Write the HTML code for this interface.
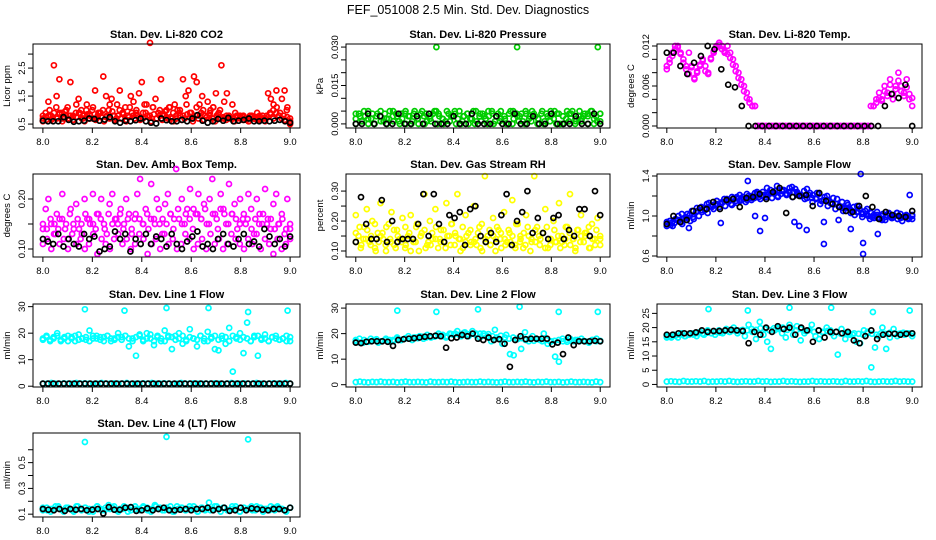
<!DOCTYPE html>
<html><head><meta charset="utf-8"><style>
body{margin:0;background:#fff}
svg{display:block;font-family:"Liberation Sans",sans-serif}
</style></head><body>
<svg id="c" width="936" height="540" viewBox="0 0 936 540" xmlns="http://www.w3.org/2000/svg">
<rect width="936" height="540" fill="#fff"/>
<text x="468" y="14" text-anchor="middle" font-size="12.5">FEF_051008  2.5 Min. Std. Dev. Diagnostics</text>
</svg>
<script>
const xTicks=[8.0,8.2,8.4,8.6,8.8,9.0];
const xTickLabels=["8.0","8.2","8.4","8.6","8.8","9.0"];
const co2Red=[0.7,0.9,1.3,0.8,2.6,1.5,2.1,0.9,0.7,1.1,2.0,0.8,0.9,1.4,1.0,0.8,1.2,0.7,1.0,1.7,0.8,0.9,2.2,1.5,1.0,1.4,0.8,1.2,1.7,0.9,1.1,0.8,1.5,1.3,0.9,1.6,2.0,1.2,0.8,3.4,1.1,1.4,0.9,2.1,0.8,1.0,1.1,0.7,1.2,1.0,0.8,2.1,1.5,1.7,0.9,2.2,2.0,1.2,1.5,0.8,1.3,1.0,1.1,1.6,0.9,2.6,1.3,1.6,0.7,1.2,0.9,0.8,0.7,0.8,0.7,0.6,0.8,0.7,0.9,0.7,0.8,0.7,1.6,1.4,1.2,1.7,0.8,1.4,1.7,1.1,0.5];
const co2RedBand=[0.6,0.75,0.8,0.65,0.9,0.7,0.85,0.6,0.95,0.7,0.8,0.65,0.75,0.9,0.7,0.6,0.85,0.8,0.7,0.65,0.9,0.75,0.6,0.8,0.7,0.95,0.65,0.8,0.7,0.85,0.6,0.75,0.9,0.7,0.8,0.65,0.7,0.9,0.75,0.6,0.85,0.7,0.8,0.65,0.95,0.7,0.75,0.6,0.8,0.9,0.65,0.7,0.85,0.75,0.6,0.8,0.7,0.9,0.65,0.75,0.8,0.7,0.6,0.85,0.7,0.75,0.65,0.8,0.7,0.6,0.75,0.8,0.65,0.7,0.6,0.75,0.7,0.65,0.8,0.7,0.6,0.75,0.85,0.7,0.9,0.8,0.7,0.65,0.75,0.6];
const co2RedBand2=[0.8,0.65,1.0,0.7,1.1,0.9,0.7,1.0,0.8,0.65,1.2,0.9,0.7,1.0,0.85,1.1,0.7,0.9,1.0,0.75,1.2,0.8,0.7,1.0,0.9,0.65,1.1,0.8,1.0,0.7,0.9,1.2,0.8,1.1,0.7,1.0,0.85,0.75,1.1,0.9,0.7,1.0,0.8,1.2,0.9,0.7,1.1,0.8,1.0,0.75,0.9,1.1,0.8,1.0,0.7,0.8,0.75,0.7,0.8,0.7,0.75,0.65,0.8,0.7,0.75,0.65,0.7,0.8,0.9,1.0,1.1,0.9,0.8,1.0,0.7];
const co2Black=[0.62,0.6,0.6,0.6,0.75,0.65,0.58,0.6,0.62,0.7,0.68,0.62,0.66,0.75,0.6,0.55,0.62,0.6,0.64,0.7,0.6,0.55,0.52,0.7,0.64,0.6,0.6,0.65,0.6,0.7,0.82,0.62,0.55,0.6,0.68,0.62,0.72,0.6,0.62,0.65,0.7,0.6,0.6,0.62,0.6,0.62,0.65,0.6,0.55];
const presGreen=[0.002,0.004,0.001,0.003,0.005,0.002,0.000,0.004,0.003,0.001,0.002,0.005,0.003,0.004,0.001,0.002,0.004,0.003,0.000,0.005,0.002,0.004,0.003,0.001,0.002,0.004,0.005,0.003,0.002,0.001,0.004,0.003,0.005,0.002,0.000,0.003,0.004,0.002,0.005,0.001,0.003,0.004,0.002,0.003,0.005,0.001,0.004,0.002,0.003,0.000,0.005,0.002,0.004,0.003,0.001,0.004,0.002,0.005,0.003,0.002,0.004,0.001,0.003,0.005,0.002,0.004,0.000,0.003,0.002,0.004,0.005,0.001,0.003,0.002,0.004,0.003,0.005,0.002,0.001,0.004];
const presGreen2=[0.004,0.003,0.005,0.002,0.004,0.003,0.005,0.004,0.002,0.005,0.003,0.004,0.005,0.003,0.004,0.002,0.005,0.004,0.003,0.005,0.004,0.002,0.005,0.003,0.004,0.005,0.003,0.004,0.002,0.005,0.004,0.003,0.005,0.004,0.003,0.005,0.002,0.004,0.005,0.003,0.004,0.005,0.003,0.004,0.002,0.005,0.004,0.003,0.005,0.004,0.003,0.005,0.004,0.002,0.005,0.003,0.004,0.005,0.003,0.004];
const presGreenLow=[0.000,0.001,0.000,0.000,0.001,0.000,0.001,0.000,0.000,0.001,0.000,0.000,0.001,0.000,0.000,0.001,0.000,0.001,0.000,0.000,0.001,0.000,0.000,0.001,0.000,0.000,0.001,0.000,0.001,0.000,0.000,0.001,0.000,0.000,0.001,0.000,0.001,0.000,0.000,0.001];
const presSpikeT=[8.33,8.66,8.99];
const presSpikeV=[0.030,0.030,0.030];
const presBlack=[0.000,0.000,0.004,0.000,0.003,0.000,0.000,0.004,0.000,0.000,0.003,0.000,0.004,0.000,0.000,0.000,0.003,0.000,0.000,0.004,0.000,0.000,0.000,0.003,0.000,0.000,0.004,0.000,0.000,0.003,0.000,0.000,0.004,0.000,0.000,0.000,0.003,0.000,0.000,0.004,0.000];
const tempMag=[0.009,0.010,0.011,0.012,0.012,0.011,0.010,0.009,0.011,0.009,0.007,0.008,0.009,0.010,0.009,0.008,0.010,0.011,0.012,0.0125,0.012,0.011,0.012,0.011,0.010,0.009,0.008,0.007,0.006,0.005,0.004,0.003,0.003,0,0,0,0,0,0,0,0,0,0,0,0,0,0,0,0,0,0,0,0,0,0,0,0,0,0,0,0,0,0,0,0,0,0,0,0,0,0,0,0,0,0.003,0.003,0.004,0.005,0.004,0.006,0.005,0.007,0.004,0.006,0.008,0.006,0.005,0.007,0.004,0.003];
const tempMag2=[0.0085,0.0095,0.0105,0.0115,0.0118,0.0108,0.0095,0.0085,0.0078,0.0088,0.0072,0.0082,0.0092,0.0098,0.0082,0.0078,0.0102,0.0112,0.0118,0.0122,0.0115,0.0112,0.0108,0.0102,0.0092,0.0082,0.0072,0.0062,0.0052,0.0042,0.0035,0.003,0.003,0,0,0,0,0,0,0,0,0,0,0,0,0,0,0,0,0,0,0,0,0,0,0,0,0,0,0,0,0,0,0,0,0,0,0,0,0,0,0,0,0,0,0.003,0.0035,0.0042,0.0038,0.0052,0.0045,0.0062,0.0048,0.0055,0.0068,0.0052,0.0045,0.0058,0.0048,0.0042];
const tempBlack=[0.011,0.011,0.009,0.0078,0.0095,0.0105,0.012,0.0115,0.0085,0.0062,0.0058,0.003,0,0,0,0,0,0,0,0,0,0,0,0,0,0,0,0,0,0,0,0,0.003,0.0048,0.0042,0.0062,0];
const ambUpper=[0.14,0.18,0.20,0.15,0.13,0.17,0.16,0.21,0.14,0.12,0.18,0.15,0.19,0.14,0.13,0.20,0.16,0.15,0.21,0.14,0.17,0.20,0.15,0.13,0.19,0.21,0.16,0.15,0.18,0.14,0.20,0.17,0.13,0.16,0.21,0.24,0.15,0.18,0.14,0.23,0.16,0.20,0.15,0.13,0.19,0.21,0.17,0.14,0.26,0.16,0.20,0.15,0.18,0.22,0.14,0.17,0.21,0.16,0.19,0.15,0.20,0.24,0.17,0.14,0.21,0.18,0.15,0.23,0.17,0.19,0.14,0.20,0.16,0.15,0.21,0.18,0.13,0.20,0.17,0.15,0.22,0.16,0.14,0.19,0.21,0.15,0.17,0.13,0.20,0.14];
const ambUpper2=[0.15,0.14,0.16,0.15,0.14,0.16,0.15,0.17,0.14,0.16,0.15,0.17,0.16,0.15,0.17,0.16,0.14,0.17,0.15,0.16,0.17,0.15,0.16,0.14,0.17,0.16,0.15,0.17,0.16,0.15,0.18,0.16,0.15,0.17,0.16,0.18,0.15,0.17,0.16,0.18,0.17,0.16,0.18,0.15,0.17,0.16,0.18,0.17,0.15,0.17,0.16,0.15,0.17,0.16,0.14,0.16,0.15,0.17,0.15,0.16,0.14,0.15,0.16,0.14,0.15];
const ambLower=[0.11,0.12,0.10,0.13,0.11,0.12,0.10,0.13,0.11,0.12,0.10,0.11,0.13,0.09,0.12,0.11,0.10,0.12,0.13,0.11,0.12,0.10,0.11,0.13,0.12,0.09,0.11,0.12,0.10,0.13,0.11,0.12,0.10,0.11,0.13,0.12,0.10,0.11,0.12,0.10,0.13,0.11,0.12,0.10,0.11,0.13,0.12,0.11,0.10,0.12,0.11,0.13,0.10,0.12,0.11,0.09,0.12,0.10,0.11,0.12];
const ambBlack=[0.12,0.115,0.11,0.13,0.105,0.12,0.11,0.105,0.13,0.12,0.125,0.095,0.10,0.105,0.135,0.12,0.13,0.095,0.12,0.11,0.13,0.11,0.125,0.12,0.105,0.13,0.11,0.10,0.115,0.125,0.135,0.105,0.11,0.10,0.12,0.13,0.11,0.105,0.12,0.13,0.11,0.115,0.105,0.14,0.125,0.11,0.12,0.105,0.125];
const rhYellow=[0.22,0.15,0.12,0.18,0.24,0.13,0.20,0.11,0.16,0.26,0.14,0.10,0.19,0.23,0.12,0.17,0.14,0.21,0.11,0.15,0.22,0.13,0.18,0.10,0.16,0.29,0.12,0.20,0.14,0.24,0.11,0.17,0.13,0.26,0.15,0.19,0.12,0.29,0.14,0.11,0.22,0.16,0.13,0.25,0.12,0.18,0.10,0.35,0.15,0.12,0.21,0.14,0.17,0.11,0.23,0.13,0.16,0.27,0.12,0.19,0.14,0.11,0.22,0.15,0.13,0.35,0.18,0.12,0.16,0.24,0.11,0.14,0.20,0.13,0.26,0.15,0.12,0.18,0.29,0.14,0.11,0.17,0.22,0.13,0.16,0.11,0.19,0.14,0.21,0.12];
const rhYellow2=[0.16,0.18,0.14,0.17,0.15,0.19,0.13,0.16,0.18,0.14,0.17,0.15,0.13,0.18,0.16,0.14,0.19,0.15,0.17,0.13,0.16,0.18,0.14,0.17,0.15,0.19,0.16,0.14,0.18,0.15,0.17,0.13,0.16,0.19,0.14,0.17,0.15,0.18,0.16,0.14,0.17,0.15,0.19,0.13,0.16,0.18,0.14,0.17,0.15,0.16,0.18,0.14,0.17,0.15,0.13,0.18,0.16,0.14,0.17,0.15,0.16,0.18,0.14,0.17,0.15];
const rhYellowLow=[0.13,0.11,0.14,0.12,0.10,0.15,0.12,0.13,0.11,0.14,0.12,0.10,0.13,0.15,0.11,0.12,0.14,0.13,0.11,0.12,0.15,0.10,0.13,0.12,0.14,0.11,0.13,0.12,0.10,0.14,0.12,0.13,0.11,0.15,0.12,0.10,0.13,0.14,0.11,0.12,0.13,0.11,0.14,0.12,0.10,0.13,0.15,0.11,0.12,0.14];
const rhBlack=[0.13,0.28,0.19,0.14,0.14,0.27,0.13,0.2,0.13,0.14,0.14,0.14,0.19,0.29,0.15,0.29,0.19,0.13,0.22,0.21,0.23,0.12,0.24,0.25,0.15,0.13,0.16,0.13,0.22,0.29,0.12,0.2,0.23,0.3,0.16,0.21,0.16,0.14,0.21,0.22,0.14,0.17,0.15,0.24,0.24,0.15,0.3,0.22];
const flowBlue=[0.92,0.95,0.90,0.97,1.00,0.94,0.98,1.02,0.95,0.99,1.04,1.00,1.06,1.08,1.03,1.10,1.07,1.12,1.09,1.14,1.10,1.16,1.12,1.18,1.13,1.15,1.19,1.14,1.20,1.16,1.18,1.22,1.17,1.21,1.19,1.23,1.18,1.25,1.20,1.22,1.26,1.21,1.24,1.19,1.27,1.22,1.20,1.25,1.18,1.23,1.21,1.17,1.22,1.15,1.19,1.16,1.13,1.18,1.12,1.10,1.14,1.08,1.11,1.06,1.09,1.04,1.07,1.02,1.05,1.00,1.03,0.98,1.01,0.97,1.02,0.99,1.03,0.98,1.00,0.97,1.02,0.99,1.01,0.98,1.00];
const flowBlueBand=[0.90,0.93,0.96,1.02,0.98,1.05,1.08,1.04,1.12,1.09,1.15,1.13,1.17,1.11,1.19,1.16,1.22,1.18,1.24,1.20,1.28,1.23,1.30,1.26,1.22,1.29,1.24,1.20,1.27,1.18,1.23,1.15,1.20,1.12,1.17,1.08,1.13,1.05,1.10,1.02,1.07,0.99,1.04,0.96,1.01,0.98,1.03,0.95,1.00,0.97];
const flowBlue2=[0.94,0.91,0.93,0.96,0.92,0.99,1.01,0.97,1.05,1.09,1.06,1.13,1.11,1.15,1.12,1.17,1.14,1.19,1.15,1.21,1.17,1.16,1.20,1.23,1.19,1.24,1.21,1.26,1.23,1.19,1.25,1.22,1.28,1.24,1.21,1.20,1.17,1.21,1.14,1.18,1.12,1.16,1.10,1.13,1.07,1.10,1.05,1.08,1.03,1.01,1.04,0.99,1.02,0.97,1.01,0.98,1.00,0.96,1.02,0.99,1.03,0.98,1.00,0.97,1.01];
const flowOutT=[8.09,8.22,8.33,8.36,8.38,8.40,8.52,8.54,8.57,8.64,8.64,8.70,8.75,8.79,8.80,8.80,8.86,8.99];
const flowOutV=[0.88,0.93,1.35,1.00,0.85,0.98,0.94,0.90,0.86,0.94,0.72,0.96,0.87,1.42,0.73,0.62,0.82,1.21];
const flowBlack=[0.92,1.0,0.94,0.96,1.05,1.08,1.07,1.14,1.07,1.16,1.17,1.09,1.18,1.19,1.22,1.17,1.24,1.28,1.03,1.19,1.20,1.21,1.10,1.23,1.15,1.12,1.09,1.05,1.04,1.10,1.20,1.09,0.97,1.04,1.01,1.00,0.99,1.05];
const l1Cyan=[18,19,17.5,18.5,20,17,18,19,18.5,17,19.5,18,17.5,21,18,19,18.5,17,19,18,17.5,20,18.5,19,15,18,11.5,19.5,17,20,18,15.5,19,17,21,18.5,14,19,20,16,17.5,21.5,18,15,19,17,20.5,18,14,13.5,19,16,22,5.5,18.5,20,12.5,24,17,19,11.5,18,19.5,17,18.5,19,17.5,18,19,17];
const l1Cyan2=[17.5,18.5,17,18,19,17.5,18.5,17,18,19,17.5,18,18.5,17,19,18,17.5,18.5,19,17,18,18.5,17.5,19,18,17,18.5,19,17.5,18,19.5,17,18.5,18,17,19,18.5,17.5,18,19,17,18.5,18,17.5,19,18,17,18.5,19,17.5,18,18.5,17,19,18,17.5,18.5,18,17,18.5,19,17.5,18,17,18.5,18,17.5,18,17,18.5];
const l1CyanLow=[1,1,1.2,1,0.9,1.1,1,1,1.2,1,1.1,1,0.9,1,1.2,1,1,1.1,1,1,1.2,0.9,1,1,1.1,1,1.2,1,1,1.1,1,0.9,1,1.2,1,1,1.1,1,1,1,1,1.1,1,0.9,1,1.2,1,1,1.1,1,1,1.2,1,0.9,1,1.1,1,1,1.2,1];
const l1OutT=[8.17,8.33,8.50,8.67,8.83,8.99];
const l1OutV=[29,28.5,29.5,29.5,28,28.5];
const l1Black=[1,1,1,1,1,1,1,1,1,1,1,1,1,1,1,1,1,1,1,1,1,1,1,1,1,1,1,1,1,1,1,1,1,1,1,1,1,1,1,1,1,1,1,1,1,1,1,1];
const l2Cyan=[17.5,18,16.5,17,18,17.5,16.5,17,18,17.5,17,18.5,17.5,18,19,17.5,18.5,19,18,19.5,18.5,19,20,19,18.5,20,19.5,21,19,20.5,19,21,20,18.5,20,19,17,21.5,18,16,19.5,12,11.5,18,14,20.5,17,19,18,17.5,20,16,17,11,9,18,17.5,18,17,17.5,18,17,16.5,17.5,18,17];
const l2Cyan2=[17,16.5,17.5,16.8,17.2,17.8,17,17.5,16.8,17.5,18,17.5,18.2,18,18.5,18.2,18.8,18.5,19,18.8,19.2,19.5,19,19.8,20,19.5,20.2,19.8,20,19.5,20,19.2,19.8,19,18.5,19.2,18.5,18,18.5,17.8,18.2,17.5,18,17.2,17.8,17,17.5,16.8,17.2,17.5,17,16.8,17.2,17.5,17,17.2,16.8,17.5,17,17.2];
const l2CyanLow=[1,1.2,1,0.9,1.1,1,1.2,1,1,1.1,0.9,1,1.2,1,1,1.1,1,0.9,1.2,1,1,1.1,1,1.2,1,0.9,1,1.1,1,1,1.2,1,1.1,1,0.9,1,1.2,1,1,1.1,1,1.2,1,0.9,1.1,1,1.2,1,1,1.1,0.9,1,1.2,1,1,1.1,1,0.9,1.2,1];
const l2OutT=[8.17,8.33,8.50,8.67,8.83,8.99];
const l2OutV=[29,28.5,29.5,30.5,28.5,28.5];
const l2Black=[16.5,16.3,16.8,17,17,17,16.8,15.2,17.5,17.8,18,18.2,18.5,18.8,19,19.2,19,14.5,18.2,18.5,19.5,19,20,18,17.5,18.5,17.5,17.8,16,7,17.5,19,17.8,18,18,18,18,15.8,16.5,12,18.5,15.5,17,17,17,17.2,17];
const l3Cyan=[16.5,17,17.5,16.5,18,17,17.5,18,17,18.5,17.5,19,18,17.5,19,18,19.5,18.5,20,18,19,17,21,18.5,16,22,17.5,15,12.5,19,20,18,16.5,21,17.5,20.5,15.5,18,19,21,17,16,18.5,20,19,17,10.5,19.5,16,18,17.5,15,14.5,19,18.5,6,13,17,20,12.5,16.5,19.5,17,18,17.5,18,17];
const l3Cyan2=[17,16.5,17.2,17.5,17,17.8,17.5,18,17.8,18.2,18,18.5,18.2,18.8,18.5,19,18.8,19.2,19,19.5,19.2,19.8,19.5,19,19.8,19.5,20,19.2,19.8,19,19.5,18.8,19.2,18.5,19,18.2,18.8,18,18.5,17.8,18.2,17.5,18,17.8,17.5,18,17.8,17.5,18,17.8,18.2,18,17.8,18.2,18,17.8];
const l3CyanLow=[1,1.1,1,0.9,1.2,1,1,1.1,1,1.2,0.9,1,1,1.1,1,1.2,1,0.9,1,1.1,1,1,1.2,1,1.1,0.9,1,1,1.2,1,1.1,1,0.9,1,1,1.2,1,1.1,1,1,1.1,1,0.9,1.2,1,1,1.1,1,1.2,1,0.9,1,1.1,1,1,1.2,1,1.1,1,1];
const l3OutT=[8.17,8.33,8.50,8.67,8.84,8.99];
const l3OutV=[26.5,26,27,27,25.5,26];
const l3Black=[17.5,17.5,18,18,18,18.3,19,18.5,18.8,18.8,19,19.2,19,18.8,14.5,18.5,17.5,20,18.5,20.5,19.5,20,17.5,20,19,15,19,16.5,18.5,18.5,18,18.5,15.5,14.5,17,19,16,17.5,17.8,17.8,17.5,17.8,18];
const l4Cyan=[0.13,0.15,0.12,0.14,0.16,0.13,0.15,0.14,0.12,0.16,0.13,0.15,0.14,0.12,0.16,0.14,0.13,0.17,0.15,0.13,0.14,0.16,0.12,0.15,0.14,0.13,0.16,0.15,0.12,0.17,0.14,0.13,0.15,0.16,0.12,0.14,0.15,0.13,0.16,0.14,0.12,0.15,0.13,0.19,0.14,0.16,0.12,0.15,0.13,0.16,0.14,0.12,0.15,0.14,0.16,0.13,0.15,0.12,0.14,0.16,0.13,0.15,0.14,0.12,0.15];
const l4Cyan2=[0.15,0.13,0.14,0.16,0.14,0.12,0.15,0.13,0.16,0.14,0.15,0.12,0.14,0.16,0.13,0.15,0.14,0.16,0.12,0.14,0.15,0.13,0.16,0.14,0.15,0.13,0.14,0.16,0.15,0.13,0.14,0.12,0.16,0.15,0.13,0.14,0.16,0.12,0.15,0.14,0.13,0.16,0.14,0.15,0.13,0.14,0.16,0.12,0.15,0.14,0.13,0.16,0.15,0.14,0.13,0.15,0.16,0.14,0.13,0.15];
const l4OutT=[8.17,8.50,8.83];
const l4OutV=[0.66,0.70,0.68];
const l4Black=[0.14,0.135,0.13,0.14,0.125,0.14,0.135,0.14,0.13,0.135,0.14,0.105,0.155,0.135,0.135,0.15,0.155,0.125,0.13,0.145,0.13,0.14,0.15,0.13,0.13,0.135,0.14,0.13,0.14,0.14,0.15,0.13,0.14,0.15,0.125,0.13,0.15,0.13,0.145,0.14,0.135,0.13,0.14,0.14,0.13,0.15];

const svg=document.getElementById('c');
const NS='http://www.w3.org/2000/svg';
function mk(tag,attrs,parent){const e=document.createElementNS(NS,tag);for(const k in attrs)e.setAttribute(k,attrs[k]);(parent||svg).appendChild(e);return e;}
function idxTimes(n){const t=[];for(let i=0;i<n;i++)t.push(8+i/(n-1));return t;}

function panel(p){
  const g=mk('g',{});
  
  
  const xS=v=>p.x0+(v-7.96)/(9.04-7.96)*(p.x1-p.x0);
  const yS=v=>p.y1-(v-p.ymin)/(p.ymax-p.ymin)*(p.y1-p.y0);
  const t=mk('text',{x:(p.x0+p.x1)/2,y:p.y0-6,'text-anchor':'middle','font-size':'11','font-weight':'bold'},g);
  t.textContent=p.title;
  
  
  p.series.forEach(s=>{
    const sg=mk('g',{fill:'none',stroke:s.c,'stroke-width':'1.7'},g);
    
    
    const ts=s.t||idxTimes(s.v.length);
    s.v.forEach((v,i)=>{
      const c=mk('circle',{cx:xS(ts[i]).toFixed(1),cy:yS(v).toFixed(1),r:'2.5'},sg);
      
      
    });
  });
  const box=mk('rect',{x:p.x0,y:p.y0,width:p.x1-p.x0,height:p.y1-p.y0,fill:'none',stroke:'#000','stroke-width':'1'},g);
  
  
  const xa=mk('g',{},g);
  
  
  xTicks.forEach((v,i)=>{
    const x=xS(v);
    mk('line',{x1:x,x2:x,y1:p.y1,y2:p.y1+5,stroke:'#000'},xa);
    const l=mk('text',{x:x,y:p.y1+17,'text-anchor':'middle','font-size':'9.5'},xa);
    l.textContent=xTickLabels[i];
  });
  const ya=mk('g',{},g);
  
  
  p.yt.forEach((v,i)=>{
    const y=yS(v);
    mk('line',{x1:p.x0,x2:p.x0-5,y1:y,y2:y,stroke:'#000'},ya);
    if(p.yl[i]){
      const l=mk('text',{x:p.x0-8,y:y,'text-anchor':'middle','font-size':'9.5',transform:`rotate(-90 ${p.x0-8} ${y})`},ya);
      l.textContent=p.yl[i];
    }
  });
  const yt=mk('text',{x:p.x0-23,y:(p.y0+p.y1)/2,'text-anchor':'middle','font-size':'9.5',transform:`rotate(-90 ${p.x0-23} ${(p.y0+p.y1)/2})`},ya);
  yt.textContent=p.ylab;
  
  
}
const C=[[33,300],[346,610],[657,922]];
const R=[[44,128],[174,257],[304,387],[433,517]];
function px(col,row){return{x0:C[col][0],x1:C[col][1],y0:R[row][0],y1:R[row][1]};}

panel(Object.assign(px(0,0),{name:'panel-co2',title:'Stan. Dev. Li-820 CO2',ylab:'Licor ppm',ymin:0.36,ymax:3.36,yt:[0.5,1,1.5,2,2.5,3],yl:['0.5','','1.5','','2.5',''],
  series:[{n:'co2-red',c:'#f00',v:co2Red},{n:'co2-red-band',c:'#f00',v:co2RedBand},{n:'co2-red-band2',c:'#f00',v:co2RedBand2},{n:'co2-black',c:'#000',v:co2Black}]}));
panel(Object.assign(px(1,0),{name:'panel-pressure',title:'Stan. Dev. Li-820 Pressure',ylab:'kPa',ymin:-0.0016,ymax:0.0312,yt:[0,0.005,0.01,0.015,0.02,0.025,0.03],yl:['0.000','','','0.015','','','0.030'],
  series:[{n:'pressure-green',c:'#00cd00',v:presGreen},{n:'pressure-green2',c:'#00cd00',v:presGreen2},{n:'pressure-green-low',c:'#00cd00',v:presGreenLow},{n:'pressure-spikes',c:'#00cd00',v:presSpikeV,t:presSpikeT},{n:'pressure-black',c:'#000',v:presBlack}]}));
panel(Object.assign(px(2,0),{name:'panel-temp',title:'Stan. Dev. Li-820 Temp.',ylab:'degrees C',ymin:-0.0003,ymax:0.0123,yt:[0,0.002,0.004,0.006,0.008,0.01,0.012],yl:['0.000','','','0.006','','','0.012'],
  series:[{n:'temp-magenta',c:'#f0f',v:tempMag},{n:'temp-magenta2',c:'#f0f',v:tempMag2},{n:'temp-black',c:'#000',v:tempBlack}]}));
panel(Object.assign(px(0,1),{name:'panel-amb-temp',title:'Stan. Dev. Amb. Box Temp.',ylab:'degrees C',ymin:0.084,ymax:0.25,yt:[0.1,0.15,0.2],yl:['0.10','','0.20'],
  series:[{n:'amb-upper',c:'#f0f',v:ambUpper},{n:'amb-upper2',c:'#f0f',v:ambUpper2},{n:'amb-lower',c:'#f0f',v:ambLower},{n:'amb-black',c:'#000',v:ambBlack}]}));
panel(Object.assign(px(1,1),{name:'panel-rh',title:'Stan. Dev. Gas Stream RH',ylab:'percent',ymin:0.08,ymax:0.357,yt:[0.1,0.15,0.2,0.25,0.3],yl:['0.10','','0.20','','0.30'],
  series:[{n:'rh-yellow',c:'#ff0',v:rhYellow},{n:'rh-yellow2',c:'#ff0',v:rhYellow2},{n:'rh-yellow-low',c:'#ff0',v:rhYellowLow},{n:'rh-black',c:'#000',v:rhBlack}]}));
panel(Object.assign(px(2,1),{name:'panel-sample-flow',title:'Stan. Dev. Sample Flow',ylab:'ml/min',ymin:0.59,ymax:1.42,yt:[0.6,0.8,1.0,1.2,1.4],yl:['0.6','','1.0','','1.4'],
  series:[{n:'flow-blue',c:'#00f',v:flowBlue},{n:'flow-blue-band',c:'#00f',v:flowBlueBand},{n:'flow-blue2',c:'#00f',v:flowBlue2},{n:'flow-outliers',c:'#00f',v:flowOutV,t:flowOutT},{n:'flow-black',c:'#000',v:flowBlack}]}));
panel(Object.assign(px(0,2),{name:'panel-line1',title:'Stan. Dev. Line 1 Flow',ylab:'ml/min',ymin:-0.3,ymax:31,yt:[0,10,20,30],yl:['0','10','20','30'],
  series:[{n:'line1-cyan',c:'#0ff',v:l1Cyan},{n:'line1-cyan2',c:'#0ff',v:l1Cyan2},{n:'line1-cyan-low',c:'#0ff',v:l1CyanLow},{n:'line1-outliers',c:'#0ff',v:l1OutV,t:l1OutT},{n:'line1-black',c:'#000',v:l1Black}]}));
panel(Object.assign(px(1,2),{name:'panel-line2',title:'Stan. Dev. Line 2 Flow',ylab:'ml/min',ymin:-0.9,ymax:31.6,yt:[0,10,20,30],yl:['0','10','20','30'],
  series:[{n:'line2-cyan',c:'#0ff',v:l2Cyan},{n:'line2-cyan2',c:'#0ff',v:l2Cyan2},{n:'line2-cyan-low',c:'#0ff',v:l2CyanLow},{n:'line2-outliers',c:'#0ff',v:l2OutV,t:l2OutT},{n:'line2-black',c:'#000',v:l2Black}]}));
panel(Object.assign(px(2,2),{name:'panel-line3',title:'Stan. Dev. Line 3 Flow',ylab:'ml/min',ymin:-0.9,ymax:28.3,yt:[0,5,10,15,20,25],yl:['0','5','10','15','20','25'],
  series:[{n:'line3-cyan',c:'#0ff',v:l3Cyan},{n:'line3-cyan2',c:'#0ff',v:l3Cyan2},{n:'line3-cyan-low',c:'#0ff',v:l3CyanLow},{n:'line3-outliers',c:'#0ff',v:l3OutV,t:l3OutT},{n:'line3-black',c:'#000',v:l3Black}]}));
panel(Object.assign(px(0,3),{name:'panel-line4',title:'Stan. Dev. Line 4 (LT) Flow',ylab:'ml/min',ymin:0.078,ymax:0.73,yt:[0.1,0.2,0.3,0.4,0.5,0.6],yl:['0.1','','0.3','','0.5',''],
  series:[{n:'line4-cyan',c:'#0ff',v:l4Cyan},{n:'line4-cyan2',c:'#0ff',v:l4Cyan2},{n:'line4-outliers',c:'#0ff',v:l4OutV,t:l4OutT},{n:'line4-black',c:'#000',v:l4Black}]}));
</script>
</body></html>
